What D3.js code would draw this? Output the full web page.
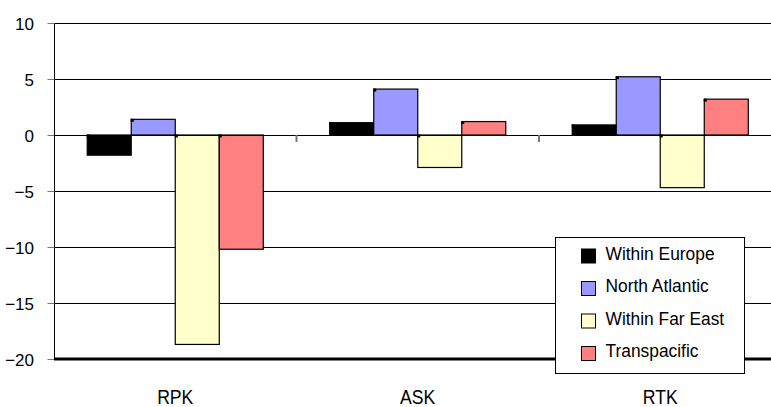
<!DOCTYPE html>
<html>
<head>
<meta charset="utf-8">
<script src="https://cdn.jsdelivr.net/npm/d3@7"></script>
<style>
  body { margin: 0; background: #fff; }
  svg { display: block; }
  text { font-family: "Liberation Sans", Arial, sans-serif; fill: #000; }
</style>
</head>
<body>
<svg id="chart" width="771" height="407"></svg>
<script>
// Year-on-year change (%) by traffic measure and region
const categories = ["RPK", "ASK", "RTK"];
const seriesNames = ["Within Europe", "North Atlantic", "Within Far East", "Transpacific"];
const withinEurope = [-1.8, 1.1, 0.9];
const northAtlantic = [1.4, 4.1, 5.2];
const withinFarEast = [-18.7, -2.9, -4.7];
const transpacific = [-10.2, 1.2, 3.2];
const yTicks = [10, 5, 0, -5, -10, -15, -20];
const colors = ["#000000", "#9999ff", "#ffffcc", "#ff8080"];

const seriesValues = [withinEurope, northAtlantic, withinFarEast, transpacific];
const rows = [];
categories.forEach((c, ci) => {
  seriesNames.forEach((s, si) => rows.push({ cat: c, series: s, si, value: seriesValues[si][ci] }));
});

const svg = d3.select("#chart");
const plotLeft = 54, plotRight = 781.5, plotTop = 23, plotBottom = 359;

const y = d3.scaleLinear().domain([-20, 10]).range([plotBottom, plotTop]);
const x0 = d3.scaleBand().domain(categories).range([plotLeft, plotRight])
  .paddingInner(0.274).paddingOuter(0.137);
const x1 = d3.scaleBand().domain(seriesNames).range([0, x0.bandwidth()]);
const step = x0.step();

// horizontal gridlines
svg.append("g").selectAll("line")
  .data(yTicks.filter(t => t !== -20 && t !== 0))
  .join("line")
  .attr("x1", plotLeft).attr("x2", 771)
  .attr("y1", d => Math.round(y(d)) + 0.5).attr("y2", d => Math.round(y(d)) + 0.5)
  .attr("stroke", "#000").attr("stroke-width", 1);

// y axis
const yAxis = svg.append("g")
  .attr("transform", `translate(${plotLeft + 0.5},0)`)
  .call(d3.axisLeft(y).tickValues(yTicks).tickSize(7).tickPadding(13.5).tickFormat(d3.format("d")));
yAxis.select(".domain").attr("stroke", "#000").attr("d", `M0,${plotTop}V${plotBottom}`);
yAxis.selectAll(".tick line").attr("stroke", "#777");
yAxis.selectAll(".tick text")
  .attr("font-size", 17).attr("dy", "0.36em")
  .style("font-family", "'Liberation Sans', Arial, sans-serif");

// bars
const bars = svg.append("g");
bars.selectAll("rect.bar")
  .data(rows)
  .join("rect")
  .attr("class", "bar")
  .attr("x", d => x0(d.cat) + x1(d.series))
  .attr("width", x1.bandwidth())
  .attr("y", d => y(Math.max(0, d.value)))
  .attr("height", d => Math.abs(y(d.value) - y(0)))
  .attr("fill", d => colors[d.si])
  .attr("stroke", "#000").attr("stroke-width", 1.2);

// small corner markers at the top-left of each bar
bars.selectAll("rect.mark")
  .data(rows)
  .join("rect")
  .attr("class", "mark")
  .attr("x", d => x0(d.cat) + x1(d.series) - 0.5)
  .attr("y", d => y(Math.max(0, d.value)) - 0.5)
  .attr("width", 3).attr("height", 3)
  .attr("fill", "#000");

// zero line and category ticks
svg.append("line")
  .attr("x1", plotLeft).attr("x2", 771)
  .attr("y1", Math.round(y(0)) + 0.5).attr("y2", Math.round(y(0)) + 0.5)
  .attr("stroke", "#000");
svg.append("g").selectAll("line")
  .data(categories.slice(1))
  .join("line")
  .attr("x1", d => x0(d) - step * 0.137).attr("x2", d => x0(d) - step * 0.137)
  .attr("y1", y(0)).attr("y2", y(0) + 7)
  .attr("stroke", "#777").attr("stroke-width", 2);

// bottom axis line
svg.append("line")
  .attr("x1", plotLeft).attr("x2", 771)
  .attr("y1", y(-20)).attr("y2", y(-20))
  .attr("stroke", "#000").attr("stroke-width", 3);

// category labels (tall, condensed lettering)
svg.append("g").selectAll("text")
  .data(categories)
  .join("text")
  .attr("transform", d => `translate(${x0(d) + x0.bandwidth() / 2},403.5) scale(0.84,1)`)
  .attr("text-anchor", "middle")
  .attr("font-size", 21)
  .text(d => d);

// legend
const lg = svg.append("g");
lg.append("rect")
  .attr("x", 555.5).attr("y", 237.5).attr("width", 189).attr("height", 136)
  .attr("fill", "#fff").attr("stroke", "#000");
const item = lg.selectAll("g.item")
  .data(seriesNames)
  .join("g").attr("class", "item")
  .attr("transform", (d, i) => `translate(0,${259.5 + i * 32.5})`);
item.append("rect")
  .attr("x", 581.5).attr("y", -10.5).attr("width", 14).attr("height", 14)
  .attr("fill", (d, i) => colors[i]).attr("stroke", "#000");
item.append("text")
  .attr("transform", "translate(605.5,0) scale(0.95,1)")
  .attr("font-size", 18.3)
  .text(d => d);
</script>
</body>
</html>
